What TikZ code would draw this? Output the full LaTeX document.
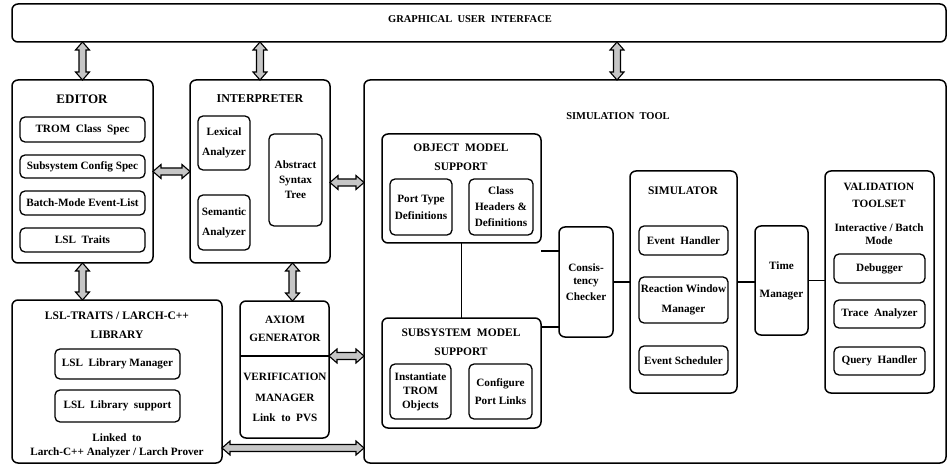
\documentclass[tikz,border=0pt]{standalone}
\usepackage{fontspec}
\setmainfont{Liberation Serif}
\usetikzlibrary{calc}
% a rounded box given by its corners, with a name and (optional) text
\newcommand\mkbox[7]{%
  \node[#1, minimum width={#4-#2}, minimum height={#5-#3}]
    (#6) at ({(#2+#4)/2},{(#3+#5)/2}) {#7};}
\begin{document}
\begin{tikzpicture}[x=1pt,y=-1pt,
  every node/.style={align=center, inner sep=0pt, outer sep=0pt,
    font=\bfseries\fontsize{11.2}{17}\selectfont},
  lead/.style={font=\bfseries\fontsize{11.2}{#1}\selectfont},
  heading/.style={font=\bfseries\fontsize{11.5}{19}\selectfont},
  frame/.style={draw, line width=1.5pt, rounded corners=6pt},
  part/.style={draw, line width=1.3pt, rounded corners=5pt},
  link/.style={line width=1.4pt},
  % hollow two-headed block arrow drawn between two points
  twoway/.style={draw, line width=1.1pt, fill=gray!45, line join=miter,
    to path={let \p1=(\tikztostart), \p2=(\tikztotarget) in
      (\p1)
      -- ($($(\p1)!8pt!(\p2)$)!7pt!90:(\p2)$)
      -- ($($(\p1)!8pt!(\p2)$)!3.5pt!90:(\p2)$)
      -- ($($(\p2)!8pt!(\p1)$)!3.5pt!-90:(\p1)$)
      -- ($($(\p2)!8pt!(\p1)$)!7pt!-90:(\p1)$)
      -- (\p2)
      -- ($($(\p2)!8pt!(\p1)$)!7pt!90:(\p1)$)
      -- ($($(\p2)!8pt!(\p1)$)!3.5pt!90:(\p1)$)
      -- ($($(\p1)!8pt!(\p2)$)!3.5pt!-90:(\p2)$)
      -- ($($(\p1)!8pt!(\p2)$)!7pt!-90:(\p2)$)
      -- cycle}},
]
\useasboundingbox (0,0) rectangle (948,465);

% ---------- top bar
\mkbox{frame}{12}{4}{946}{42}{gui}{}
\node[font=\bfseries\fontsize{10.5}{12}\selectfont] (guilabel) at (470,19) {GRAPHICAL\ \ USER\ \ INTERFACE};

% ---------- editor
\mkbox{frame}{12}{80}{153}{263}{editor}{}
\node[font=\bfseries\fontsize{13}{19}\selectfont] (editort) at (82,99) {EDITOR};
\mkbox{part}{20}{117}{145}{142}{tromspec}{TROM\ \ Class\ \ Spec}
\mkbox{part}{20}{155}{145}{178}{subspec}{Subsystem\ Config\ Spec}
\mkbox{part}{20}{191}{145}{215}{batch}{Batch-Mode\ Event-List}
\mkbox{part}{20}{228}{145}{252}{traits}{LSL\ \ Traits}

% ---------- interpreter
\mkbox{frame}{190}{80}{330}{263}{interp}{}
\node[font=\bfseries\fontsize{12}{19}\selectfont] (interpt) at (260,99) {INTERPRETER};
\mkbox{part,lead=20}{198}{116}{250}{170}{lex}{Lexical\\Analyzer}
\mkbox{part,lead=20}{198}{195}{250}{250}{sem}{Semantic\\Analyzer}
\mkbox{part,lead=15}{269}{134}{322}{226}{ast}{Abstract\\Syntax\\Tree}

% ---------- library
\mkbox{frame}{12}{300}{222}{463}{lib}{}
\node[heading] (libt) at (117,325) {LSL-TRAITS / LARCH-C++\\LIBRARY};
\mkbox{part}{55}{349}{180}{379}{libman}{LSL\ \ Library\ Manager}
\mkbox{part}{55}{390}{180}{422}{libsup}{LSL\ \ Library\ \ support}
\node[lead=14] (linked) at (117,446) {Linked\ \ to\\Larch-C++\ Analyzer / Larch\ Prover};

% ---------- axiom generator / verification manager
\mkbox{frame}{240}{301}{329}{438}{axiom}{}
\coordinate (split) at (240,356);
\draw[link] (split) -- (split -| axiom.east);
\node[heading,lead=18] (axiomt) at (285,329) {AXIOM\\GENERATOR};
\node[heading,lead=21] (verift) at (285,387) {VERIFICATION\\MANAGER};
\node (pvs) at (285,418) {Link\ \ to\ \ PVS};

% ---------- simulation tool
\mkbox{frame}{364}{80}{946}{463}{sim}{}
\node[font=\bfseries\fontsize{10.5}{12}\selectfont] (simt) at (618,116) {SIMULATION\ \ TOOL};
\coordinate (simtop) at (617,80);

\mkbox{frame}{382}{134}{541}{243}{obj}{}
\node[heading] (objt) at (461,157.5) {OBJECT\ \ MODEL\\SUPPORT};
\mkbox{part,lead=17}{390}{179}{452}{235}{port}{Port\ Type\\Definitions}
\mkbox{part,lead=16}{469}{179}{533}{235}{cls}{Class\\Headers \&\\Definitions}

\mkbox{frame}{382}{318}{541}{428}{subsys}{}
\node[heading] (subsyst) at (461,342.5) {SUBSYSTEM\ \ MODEL\\SUPPORT};
\mkbox{part,lead=14}{390}{364}{451}{419}{inst}{Instantiate\\TROM\\Objects}
\mkbox{part,lead=18}{469}{364}{532}{419}{conf}{Configure\\Port\ Links}

\mkbox{frame,lead=13}{559}{227}{613}{337}{checker}{Consis-\\tency\\[3pt]Checker}

\mkbox{frame}{630}{171}{737}{393}{simu}{}
\node[heading] (simut) at (683,191) {SIMULATOR};
\mkbox{part}{639}{226}{728}{255}{evh}{Event\ \ Handler}
\mkbox{part,lead=20}{639}{277}{728}{323}{rwm}{Reaction\ Window\\Manager}
\mkbox{part}{639}{346}{728}{375}{evs}{Event\ Scheduler}

\mkbox{frame,lead=28}{755}{226}{808}{335}{time}{Time\\Manager}

\mkbox{frame}{825}{171}{934}{393}{valid}{}
\node[heading,lead=17] (validt) at (879,195.5) {VALIDATION\\TOOLSET};
\node[lead=13] (mode) at (879,234.5) {Interactive / Batch\\Mode};
\mkbox{part}{834}{254}{925}{283}{dbg}{Debugger}
\mkbox{part}{834}{300}{925}{328}{trace}{Trace\ \ Analyzer}
\mkbox{part}{834}{347}{925}{375}{query}{Query\ \ Handler}

% ---------- plain links inside the simulation tool
\draw[link] (obj.south) -- (obj.south |- subsys.north);
\draw[link] ([yshift=-8pt]obj.south east) -- ([yshift=-8pt]obj.south east -| checker.west);
\draw[link] ([yshift=-9pt]subsys.north east) -- ([yshift=-9pt]subsys.north east -| checker.west);
\draw[link] (checker.east) -- (checker.east -| simu.west);
\draw[link] (simu.east) -- (simu.east -| time.west);
\draw[link] (time.east) -- (time.east -| valid.west);

% ---------- two-way data paths
\path[twoway] (editor.north |- gui.south) to (editor.north);
\path[twoway] (interp.north |- gui.south) to (interp.north);
\path[twoway] (simtop |- gui.south) to (simtop);
\path[twoway] (editor.east) to (interp.west);
\path[twoway] ([yshift=-11pt]interp.east) to ([yshift=-11pt]interp.east -| sim.west);
\path[twoway] (editor.south) to (editor.south |- lib.north);
\path[twoway] ([xshift=8pt]axiom.north |- interp.south) to ([xshift=8pt]axiom.north);
\path[twoway] (split -| axiom.east) to (split -| sim.west);
\path[twoway] ([yshift=15pt]lib.south east) to ([yshift=15pt]lib.south east -| sim.west);
\end{tikzpicture}
\end{document}
